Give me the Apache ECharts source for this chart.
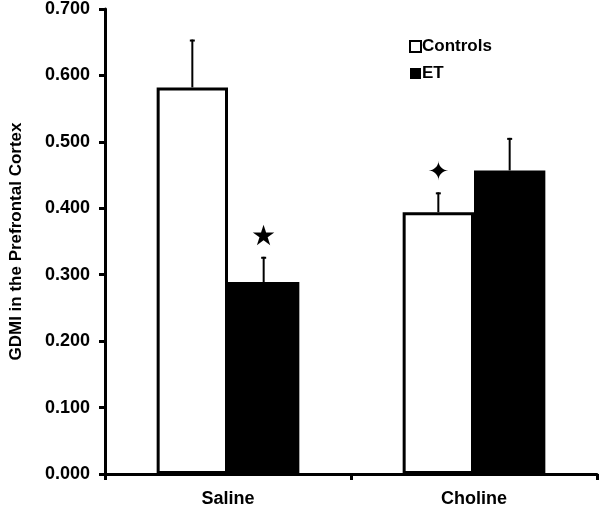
<!DOCTYPE html>
<html>
<head>
<meta charset="utf-8">
<script src="https://cdn.jsdelivr.net/npm/echarts@6/dist/echarts.min.js"></script>
<style>html,body{margin:0;padding:0;background:#fff}#c{width:600px;height:509px}</style>
</head>
<body>
<div id="c"></div>
<script>
var categories = ['Saline', 'Choline'];
var controls = [0.582, 0.394];
var controlsErr = [0.072, 0.030];
var et = [0.289, 0.457];
var etErr = [0.038, 0.049];
var marks = [['', '\u2726'], ['\u2605', '']];
var yTicks = [0, 0.1, 0.2, 0.3, 0.4, 0.5, 0.6, 0.7];

var chart = echarts.init(document.getElementById('c'), null, {renderer: 'canvas'});
var CAT_GAP = 0.42;
var errData = [];
for (var i = 0; i < categories.length; i++) {
  errData.push([i, controls[i], controlsErr[i], 0, i]);
  errData.push([i, et[i], etErr[i], 1, i]);
}
var font = 'Liberation Sans, Arial, sans-serif';
chart.setOption({
  animation: false,
  grid: {left: 91, right: 3, top: 7, bottom: 35, containLabel: false},
  legend: {
    orient: 'vertical', left: 404, top: 33, itemGap: 10,
    itemWidth: 11, itemHeight: 11, icon: 'rect',
    textStyle: {fontFamily: font, fontSize: 17, fontWeight: 'bold', color: '#000', padding: [0, 0, 0, -4]},
    data: [
      {name: 'Controls', itemStyle: {color: '#fff', borderColor: '#000', borderWidth: 2}},
      {name: 'ET', itemStyle: {color: '#000'}}
    ]
  },
  xAxis: {
    type: 'category', data: categories,
    axisLine: {lineStyle: {color: '#000', width: 3}},
    axisTick: {show: true, length: 6, lineStyle: {color: '#000', width: 3}},
    axisLabel: {fontFamily: font, fontSize: 18, fontWeight: 'bold', color: '#000', margin: 16}
  },
  yAxis: {
    type: 'value', min: 0, max: 0.7, interval: 0.1,
    name: 'GDMI in the Prefrontal Cortex', nameLocation: 'middle', nameGap: 80, nameRotate: 90,
    nameTextStyle: {fontFamily: font, fontSize: 17, fontWeight: 'bold', color: '#000'},
    splitLine: {show: false},
    axisLine: {show: true, lineStyle: {color: '#000', width: 3}},
    axisTick: {show: true, length: 6, lineStyle: {color: '#000', width: 3}},
    axisLabel: {fontFamily: font, fontSize: 18, fontWeight: 'bold', color: '#000', margin: 15,
      formatter: function (v) { return v.toFixed(3); }}
  },
  series: [
    {name: 'Controls', type: 'bar', data: controls, barGap: '0%', barCategoryGap: (CAT_GAP * 100) + '%',
      itemStyle: {color: '#fff', borderColor: '#000', borderWidth: 3}},
    {name: 'ET', type: 'bar', data: et,
      itemStyle: {color: '#000', borderColor: '#000', borderWidth: 0}},
    {type: 'custom', data: errData, z: 5,
      renderItem: function (params, api) {
        var c = api.value(0), v = api.value(1), e = api.value(2), s = api.value(3);
        var band = api.size([1, 0])[0];
        var bw = band * (1 - CAT_GAP) / 2;
        var off = (s === 0 ? -1 : 1) * bw / 2;
        var p0 = api.coord([c, v]);
        var p1 = api.coord([c, v + e]);
        var x = p0[0] + off;
        var children = [
          {type: 'line', shape: {x1: x, y1: p0[1], x2: x, y2: p1[1]}, style: {stroke: '#000', lineWidth: 2}},
          {type: 'line', shape: {x1: x - 2.5, y1: p1[1] + 1, x2: x + 2.5, y2: p1[1] + 1}, style: {stroke: '#000', lineWidth: 2}}
        ];
        var m = marks[s][c];
        if (m) {
          children.push({type: 'text', x: x, y: p1[1] - 19,
            style: {text: m, fontFamily: 'DejaVu Sans', fontSize: m === '\u2605' ? 28 : 26,
              fill: '#000', align: 'center', verticalAlign: 'middle'}});
        }
        return {type: 'group', children: children};
      }
    }
  ]
});
</script>
</body>
</html>
